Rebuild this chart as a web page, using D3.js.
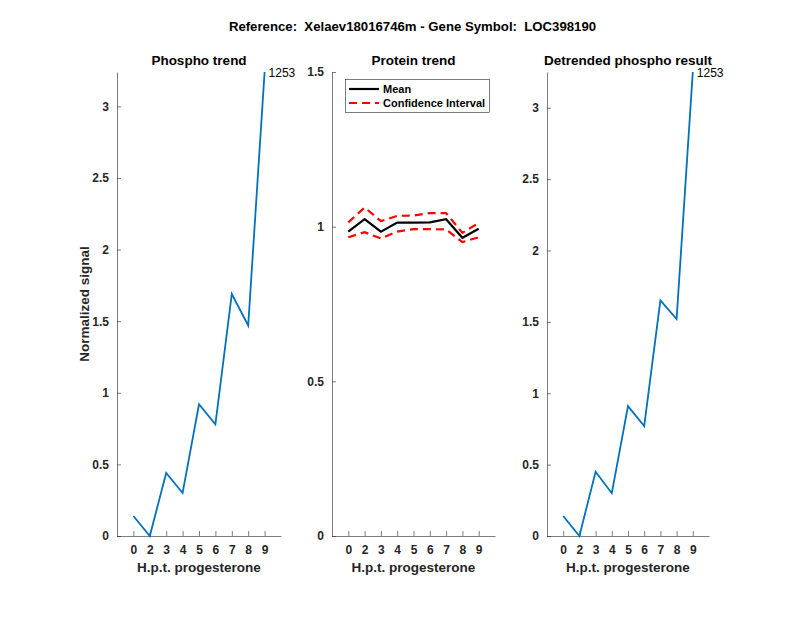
<!DOCTYPE html>
<html><head><meta charset="utf-8">
<script src="https://cdn.jsdelivr.net/npm/d3@7"></script>
<style>body{margin:0;background:#fff}svg{font-family:"Liberation Sans",Arial,sans-serif}</style>
</head><body>
<svg id="c" width="800" height="618"></svg>
<script>
const categories = ["0","2","3","4","5","6","7","8","9"];
const phospho = [0.14, 0.0, 0.44, 0.30, 0.92, 0.78, 1.69, 1.47, 3.24];
const proteinMean = [0.984, 1.024, 0.984, 1.013, 1.013, 1.014, 1.024, 0.964, 0.993];
const proteinUpper = [1.014, 1.062, 1.018, 1.035, 1.036, 1.044, 1.044, 0.980, 1.012];
const proteinLower = [0.966, 0.982, 0.962, 0.984, 0.992, 0.992, 0.991, 0.950, 0.966];
const detrended = [0.14, 0.0, 0.45, 0.30, 0.91, 0.77, 1.65, 1.52, 3.25];
const phosphoTicks = [0, 0.5, 1, 1.5, 2, 2.5, 3];
const proteinTicks = [0, 0.5, 1, 1.5];
const peptideLabel = "1253";
const mainTitle = "Reference:  Xelaev18016746m - Gene Symbol:  LOC398190";

const svg = d3.select("#c");
const axisColor = "#262626";
const plotTop = 72, plotBottom = 536;

svg.append("text").attr("x", 412.5).attr("y", 31).attr("text-anchor", "middle")
  .attr("font-weight", "bold").attr("font-size", 13.2).attr("fill", "#000")
  .attr("xml:space", "preserve").style("white-space", "pre").text(mainTitle);

function panel(left, right, ymax, yticks, title, tickFmt) {
  const g = svg.append("g");
  const x = d3.scaleLinear().domain([0, 10]).range([left, right]);
  const y = d3.scaleLinear().domain([0, ymax]).range([plotBottom, plotTop]);
  const xa = g.append("g").attr("transform", `translate(0,${plotBottom})`)
    .call(d3.axisBottom(x).tickValues(d3.range(1, 10)).tickFormat(i => categories[i - 1]).tickSizeInner(-5).tickSizeOuter(0).tickPadding(9));
  const ya = g.append("g").attr("transform", `translate(${left},0)`)
    .call(d3.axisLeft(y).tickValues(yticks).tickFormat(tickFmt).tickSizeInner(-4).tickSizeOuter(0).tickPadding(8));
  [xa, ya].forEach(a => {
    a.select(".domain").attr("stroke", axisColor).attr("stroke-width", 0.6);
    a.selectAll(".tick line").attr("stroke", axisColor).attr("stroke-width", 0.6);
    a.selectAll(".tick text").attr("fill", "#262626").attr("font-size", 12).attr("font-weight", "bold")
      .attr("font-family", "Liberation Sans, Arial, sans-serif");
  });
  g.append("text").attr("x", (left + right) / 2).attr("y", 65).attr("text-anchor", "middle")
    .attr("font-weight", "bold").attr("font-size", 13.5).attr("fill", "#000").text(title);
  g.append("text").attr("x", (left + right) / 2).attr("y", 572).attr("text-anchor", "middle")
    .attr("font-weight", "bold").attr("font-size", 13.5).attr("fill", "#262626").text("H.p.t. progesterone");
  return {g, x, y};
}

const fmt = d => d3.format("~g")(d);

const p1 = panel(117, 281, 3.24, phosphoTicks, "Phospho trend", fmt);
p1.g.append("path").datum(phospho)
  .attr("d", d3.line().x((d, i) => p1.x(i + 1)).y(d => p1.y(d)))
  .attr("fill", "none").attr("stroke", "#0072BD").attr("stroke-width", 1.8);
p1.g.append("text").attr("x", p1.x(9) + 4).attr("y", p1.y(phospho[8]) + 5)
  .attr("font-size", 12).attr("fill", "#000").text(peptideLabel);
p1.g.append("text").attr("transform", `translate(89,${(plotTop + plotBottom) / 2}) rotate(-90)`)
  .attr("text-anchor", "middle").attr("font-weight", "bold").attr("font-size", 13.5).attr("fill", "#262626")
  .text("Normalized signal");

const p2 = panel(332, 495, 1.5, proteinTicks, "Protein trend", fmt);
const ln2 = d3.line().x((d, i) => p2.x(i + 1)).y(d => p2.y(d));
p2.g.append("path").datum(proteinUpper).attr("d", ln2).attr("fill", "none")
  .attr("stroke", "#ff0000").attr("stroke-width", 2.2).attr("stroke-dasharray", "8,5");
p2.g.append("path").datum(proteinLower).attr("d", ln2).attr("fill", "none")
  .attr("stroke", "#ff0000").attr("stroke-width", 2.2).attr("stroke-dasharray", "8,5");
p2.g.append("path").datum(proteinMean).attr("d", ln2).attr("fill", "none")
  .attr("stroke", "#000").attr("stroke-width", 2.2);
const lg = p2.g.append("g");
lg.append("rect").attr("x", 345.5).attr("y", 79.5).attr("width", 144).attr("height", 33)
  .attr("fill", "#fff").attr("stroke", "#262626").attr("stroke-width", 0.6);
lg.append("line").attr("x1", 349).attr("x2", 379).attr("y1", 89).attr("y2", 89)
  .attr("stroke", "#000").attr("stroke-width", 2.2);
lg.append("line").attr("x1", 349).attr("x2", 379).attr("y1", 103).attr("y2", 103)
  .attr("stroke", "#ff0000").attr("stroke-width", 2.2).attr("stroke-dasharray", "8,5");
lg.append("text").attr("x", 383).attr("y", 93).attr("font-size", 11).attr("font-weight", "bold").text("Mean");
lg.append("text").attr("x", 383).attr("y", 107).attr("font-size", 11).attr("font-weight", "bold").text("Confidence Interval");

const p3 = panel(547, 709, 3.25, phosphoTicks, "Detrended phospho result", fmt);
p3.g.append("path").datum(detrended)
  .attr("d", d3.line().x((d, i) => p3.x(i + 1)).y(d => p3.y(d)))
  .attr("fill", "none").attr("stroke", "#0072BD").attr("stroke-width", 1.8);
p3.g.append("text").attr("x", p3.x(9) + 4).attr("y", p3.y(detrended[8]) + 5)
  .attr("font-size", 12).attr("fill", "#000").text(peptideLabel);
</script>
</body></html>
